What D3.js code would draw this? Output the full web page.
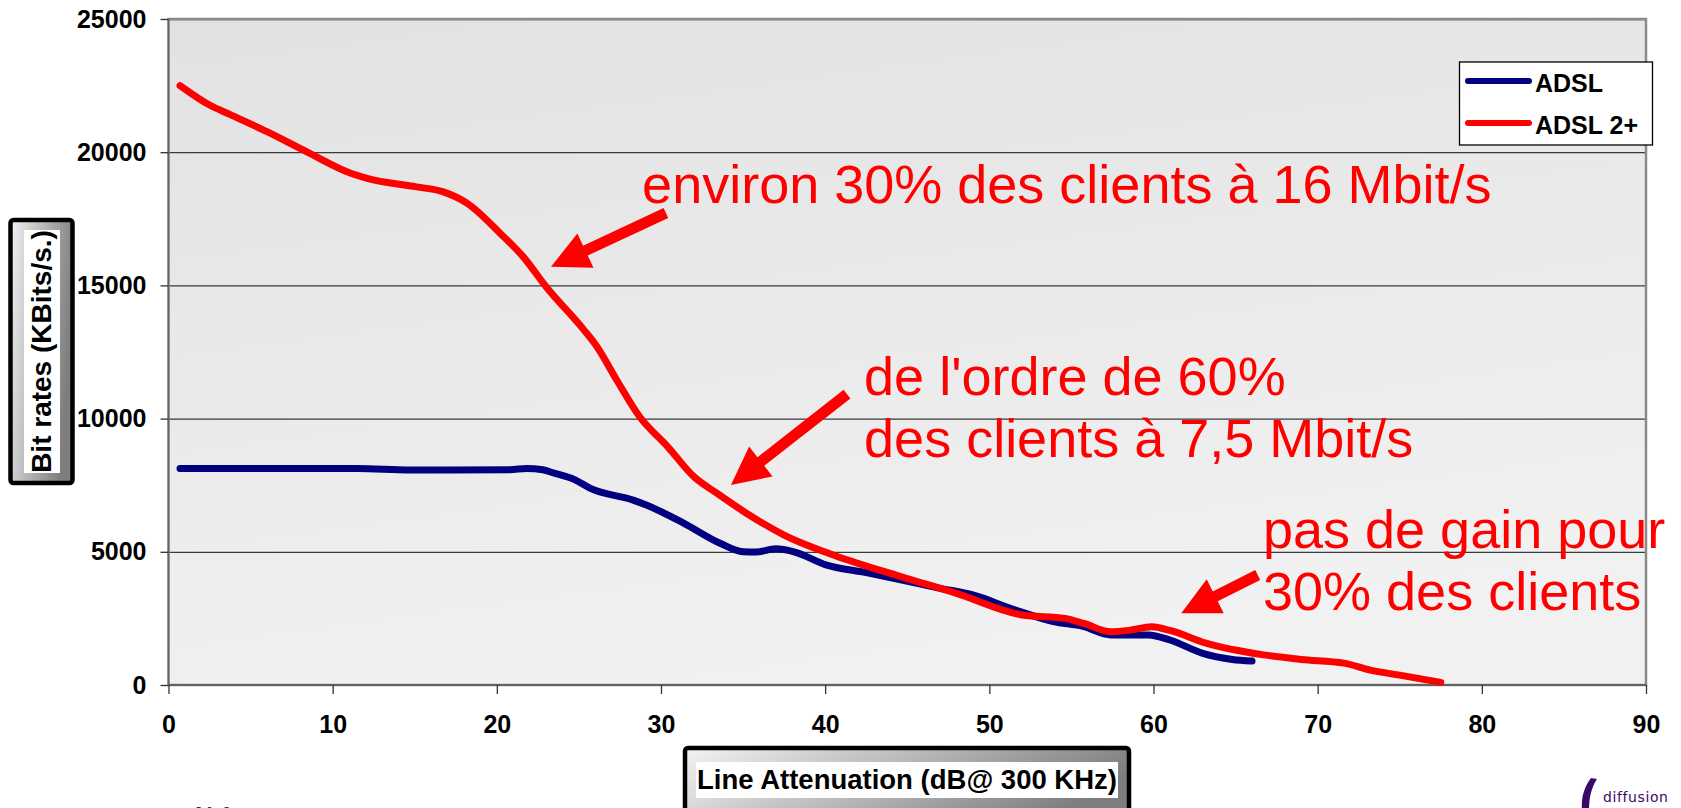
<!DOCTYPE html>
<html>
<head>
<meta charset="utf-8">
<script src="https://cdn.jsdelivr.net/npm/d3@7"></script>
<style>
  body { margin: 0; background: #fff; overflow: hidden; }
  svg { display: block; font-family: "Liberation Sans", Arial, sans-serif; }
  .axis .tick text { font-family: "Liberation Sans", Arial, sans-serif; font-size: 25px; font-weight: bold; fill: #000; }
  .axis .tick line { stroke: #333; stroke-width: 1.3; }
  .grid .tick line { stroke: #3a3a3a; stroke-width: 1.3; }
  .axis-title { font-size: 28px; font-weight: bold; fill: #000; }
  .legend-label { font-size: 25px; font-weight: bold; fill: #000; }
  .note { font-size: 54px; fill: #ff0000; }
</style>
</head>
<body>
<svg id="chart"></svg>
<script>
// Tick values
const xTicks = [0, 10, 20, 30, 40, 50, 60, 70, 80, 90];
const yTicks = [0, 5000, 10000, 15000, 20000, 25000];

// ADSL (line attenuation dB -> bit rate kbit/s)
const adslX = [0.7, 5, 11.5, 14.7, 20.8, 21.8, 22.8, 23.5, 24.7, 25.7, 28.3, 29.1, 31.4, 33.6, 35.0, 35.8,
  37.0, 38.1, 40.1, 42.5, 44.6, 47.0, 49.0, 51.6, 53.9, 55.7, 57.4, 59.7, 61.0, 63.0, 64.8, 66.0];
const adslY = [8130, 8130, 8130, 8070, 8080, 8130, 8080, 7950, 7720, 7380, 6940, 6760, 6070, 5320, 5000, 4990,
  5110, 5000, 4500, 4220, 3950, 3630, 3380, 2810, 2380, 2200, 1880, 1880, 1690, 1190, 960, 900];

// ADSL 2+
const adsl2X = [0.7, 2.5, 3.8, 6.0, 8.4, 11.1, 12.1, 15.1, 16.7, 18.2, 20.2, 21.6, 23.0, 25.3, 26.1, 27.3,
  28.7, 30.4, 32.0, 33.4, 35.2, 37.5, 40.5, 44.6, 48.0, 52.0, 54.6, 55.8, 57.4, 58.5, 59.9, 61.0, 63.2,
  66.7, 69.0, 71.6, 73.2, 74.9, 77.5];
const adsl2Y = [22500, 21770, 21400, 20770, 20020, 19210, 19020, 18700, 18520, 18080, 16960, 16080, 14950,
  13330, 12700, 11450, 10070, 8950, 7820, 7200, 6450, 5630, 4880, 4070, 3440, 2630, 2500, 2300, 2000, 2050,
  2190, 2050, 1570, 1130, 960, 820, 560, 380, 100];

const seriesNames = ['ADSL', 'ADSL 2+'];

// Annotations (anchored in data units)
const noteLines = [
  ['environ 30% des clients à 16 Mbit/s'],
  ["de l'ordre de 60%", 'des clients à 7,5 Mbit/s'],
  ['pas de gain pour', '30% des clients']
];
const noteAnchors = [[28.85, 18090], [42.37, 10890], [66.67, 5140]];
const arrowTails = [[30.3, 17720], [41.33, 10920], [66.35, 4130]];
const arrowTips = [[23.3, 15700], [34.26, 7510], [61.69, 2690]];

class BitRateChart {

  constructor(_config, _data) {
    this.config = {
      parentElement: _config.parentElement,
      containerWidth: _config.containerWidth || 1681,
      containerHeight: _config.containerHeight || 808,
      margin: _config.margin || {top: 19, right: 35, bottom: 123, left: 168.5}
    }
    this.data = _data;
    this.initVis();
  }

  initVis() {
    let vis = this;

    vis.width = vis.config.containerWidth - vis.config.margin.left - vis.config.margin.right;
    vis.height = vis.config.containerHeight - vis.config.margin.top - vis.config.margin.bottom;

    vis.xScale = d3.scaleLinear().domain([0, 90]).range([0, vis.width]);
    vis.yScale = d3.scaleLinear().domain([0, 25000]).range([vis.height, 0]);
    vis.colorScale = d3.scaleOrdinal().domain(seriesNames).range(['#000080', '#ff0000']);

    vis.svg = d3.select(vis.config.parentElement)
        .attr('width', vis.config.containerWidth)
        .attr('height', vis.config.containerHeight);

    let defs = vis.svg.append('defs');
    let bg = defs.append('linearGradient').attr('id', 'plotBg')
        .attr('x1', 0).attr('y1', 0).attr('x2', 0.3).attr('y2', 1);
    bg.append('stop').attr('offset', '0%').attr('stop-color', '#e2e2e2');
    bg.append('stop').attr('offset', '100%').attr('stop-color', '#f1f1f1');

    let boxGrad = defs.append('linearGradient').attr('id', 'boxGrad')
        .attr('x1', 0).attr('y1', 0).attr('x2', 1).attr('y2', 0.3);
    boxGrad.append('stop').attr('offset', '0%').attr('stop-color', '#f2f2f2');
    boxGrad.append('stop').attr('offset', '100%').attr('stop-color', '#7e7e7e');

    vis.chart = vis.svg.append('g')
        .attr('transform', `translate(${vis.config.margin.left},${vis.config.margin.top})`);

    // plot area
    vis.chart.append('rect')
        .attr('width', vis.width)
        .attr('height', vis.height)
        .attr('fill', 'url(#plotBg)');

    vis.gridG = vis.chart.append('g').attr('class', 'grid');

    vis.chart.append('rect')
        .attr('width', vis.width)
        .attr('height', vis.height)
        .attr('fill', 'none')
        .attr('stroke', '#8a8a8a')
        .attr('stroke-width', 2.5);

    vis.chart.append('line')
        .attr('x1', 0).attr('x2', vis.width)
        .attr('y1', vis.height).attr('y2', vis.height)
        .attr('stroke', '#555').attr('stroke-width', 1.5);
    vis.chart.append('line')
        .attr('x1', 0).attr('x2', 0)
        .attr('y1', 0).attr('y2', vis.height)
        .attr('stroke', '#666').attr('stroke-width', 1.5);

    vis.xAxis = d3.axisBottom(vis.xScale).tickValues(xTicks).tickSize(9).tickPadding(21).tickSizeOuter(0);
    vis.yAxis = d3.axisLeft(vis.yScale).tickValues(yTicks).tickSize(8).tickPadding(14).tickSizeOuter(0)
        .tickFormat(d3.format('d'));

    vis.xAxisG = vis.chart.append('g')
        .attr('class', 'axis x-axis')
        .attr('transform', `translate(0,${vis.height})`);
    vis.yAxisG = vis.chart.append('g')
        .attr('class', 'axis y-axis');

    vis.linesG = vis.chart.append('g');
    vis.notesG = vis.chart.append('g');

    // y axis title box
    let yBox = vis.svg.append('g');
    yBox.append('rect')
        .attr('x', 10.5).attr('y', 220).attr('width', 62).attr('height', 263).attr('rx', 3)
        .attr('fill', 'url(#boxGrad)').attr('stroke', '#000').attr('stroke-width', 4.5);
    yBox.append('rect')
        .attr('x', 24).attr('y', 230).attr('width', 36).attr('height', 243).attr('fill', '#fff');
    yBox.append('text')
        .attr('class', 'axis-title')
        .attr('transform', 'translate(50.5,351.5) rotate(-90)')
        .attr('text-anchor', 'middle')
        .text('Bit rates (KBits/s.)');

    // x axis title box
    let xBox = vis.svg.append('g');
    xBox.append('rect')
        .attr('x', 685).attr('y', 748).attr('width', 444).attr('height', 80).attr('rx', 3)
        .attr('fill', 'url(#boxGrad)').attr('stroke', '#000').attr('stroke-width', 4.5);
    xBox.append('rect')
        .attr('x', 696).attr('y', 762).attr('width', 422).attr('height', 36).attr('fill', '#fff');
    xBox.append('text')
        .attr('class', 'axis-title')
        .style('font-size', '27.5px')
        .attr('x', 907).attr('y', 789)
        .attr('text-anchor', 'middle')
        .text('Line Attenuation (dB@ 300 KHz)');

    // legend
    vis.legend = vis.svg.append('g');
    vis.legend.append('rect')
        .attr('x', 1459.5).attr('y', 62).attr('width', 193).attr('height', 83)
        .attr('fill', '#fff').attr('stroke', '#000').attr('stroke-width', 1.3);

    // footer bits (cut by the bottom edge, as in the slide)
    vis.svg.append('text')
        .attr('x', 42).attr('y', 834)
        .attr('fill', '#4a1f82')
        .style('font-size', '36px')
        .text('France Télécom');
    vis.svg.append('path')
        .attr('d', 'M1591,778 C1584,787 1581,798 1582,810 L1589,810 C1589,799 1591,788 1597,779 Z')
        .attr('fill', '#3b0a66');
    vis.svg.append('text')
        .attr('x', 1603).attr('y', 802)
        .attr('fill', '#3b0a66')
        .style('font-family', '"DejaVu Sans", sans-serif')
        .style('font-size', '14px')
        .style('letter-spacing', '0.6px')
        .text('diffusion');
  }

  updateVis() {
    let vis = this;
    vis.xValue = d => d[0];
    vis.yValue = d => d[1];
    vis.line = d3.line()
        .x(d => vis.xScale(vis.xValue(d)))
        .y(d => vis.yScale(vis.yValue(d)))
        .curve(d3.curveMonotoneX);
    vis.renderVis();
  }

  renderVis() {
    let vis = this;

    vis.gridG
        .call(d3.axisLeft(vis.yScale).tickValues(yTicks.slice(1)).tickSize(-vis.width).tickFormat(''))
        .call(g => g.select('.domain').remove());

    vis.xAxisG.call(vis.xAxis).call(g => g.select('.domain').remove());
    vis.yAxisG.call(vis.yAxis).call(g => g.select('.domain').remove());

    vis.linesG.selectAll('.series')
        .data(vis.data)
        .join('path')
        .attr('class', 'series')
        .attr('d', d => vis.line(d.values))
        .attr('fill', 'none')
        .attr('stroke', d => vis.colorScale(d.name))
        .attr('stroke-width', 7)
        .attr('stroke-linecap', 'round')
        .attr('stroke-linejoin', 'round');

    // legend entries
    let entries = vis.legend.selectAll('.entry')
        .data(vis.data)
        .join('g')
        .attr('class', 'entry')
        .attr('transform', (d, i) => `translate(1468,${81 + i * 42})`);
    entries.append('line')
        .attr('x1', 0).attr('x2', 61)
        .attr('stroke', d => vis.colorScale(d.name))
        .attr('stroke-width', 6)
        .attr('stroke-linecap', 'round');
    entries.append('text')
        .attr('class', 'legend-label')
        .attr('x', 67).attr('y', 10.5)
        .text(d => d.name);

    // notes and arrows
    noteLines.forEach((lines, i) => {
      let [ax, ay] = noteAnchors[i];
      let t = vis.notesG.append('text')
          .attr('class', 'note')
          .attr('x', vis.xScale(ax))
          .attr('y', vis.yScale(ay));
      lines.forEach((s, j) => {
        t.append('tspan')
            .attr('x', vis.xScale(ax))
            .attr('dy', j === 0 ? 0 : 62)
            .text(s);
      });
    });

    arrowTails.forEach((tail, i) => {
      let x0 = vis.xScale(tail[0]), y0 = vis.yScale(tail[1]);
      let x1 = vis.xScale(arrowTips[i][0]), y1 = vis.yScale(arrowTips[i][1]);
      let len = Math.hypot(x1 - x0, y1 - y0);
      let ux = (x1 - x0) / len, uy = (y1 - y0) / len;
      let nx = -uy, ny = ux;
      let shaft = 5.5, head = 19, headLen = 38;
      let bx = x1 - ux * headLen, by = y1 - uy * headLen;
      let pts = [
        [x0 + nx * shaft, y0 + ny * shaft],
        [bx + nx * shaft, by + ny * shaft],
        [bx + nx * head, by + ny * head],
        [x1, y1],
        [bx - nx * head, by - ny * head],
        [bx - nx * shaft, by - ny * shaft],
        [x0 - nx * shaft, y0 - ny * shaft]
      ];
      vis.notesG.append('path')
          .attr('d', 'M' + pts.map(p => p.join(',')).join('L') + 'Z')
          .attr('fill', '#ff0000');
    });
  }
}

const chartData = [
  {name: seriesNames[0], values: adslX.map((x, i) => [x, adslY[i]])},
  {name: seriesNames[1], values: adsl2X.map((x, i) => [x, adsl2Y[i]])}
];

const chart = new BitRateChart({parentElement: '#chart'}, chartData);
chart.updateVis();
</script>
</body>
</html>
